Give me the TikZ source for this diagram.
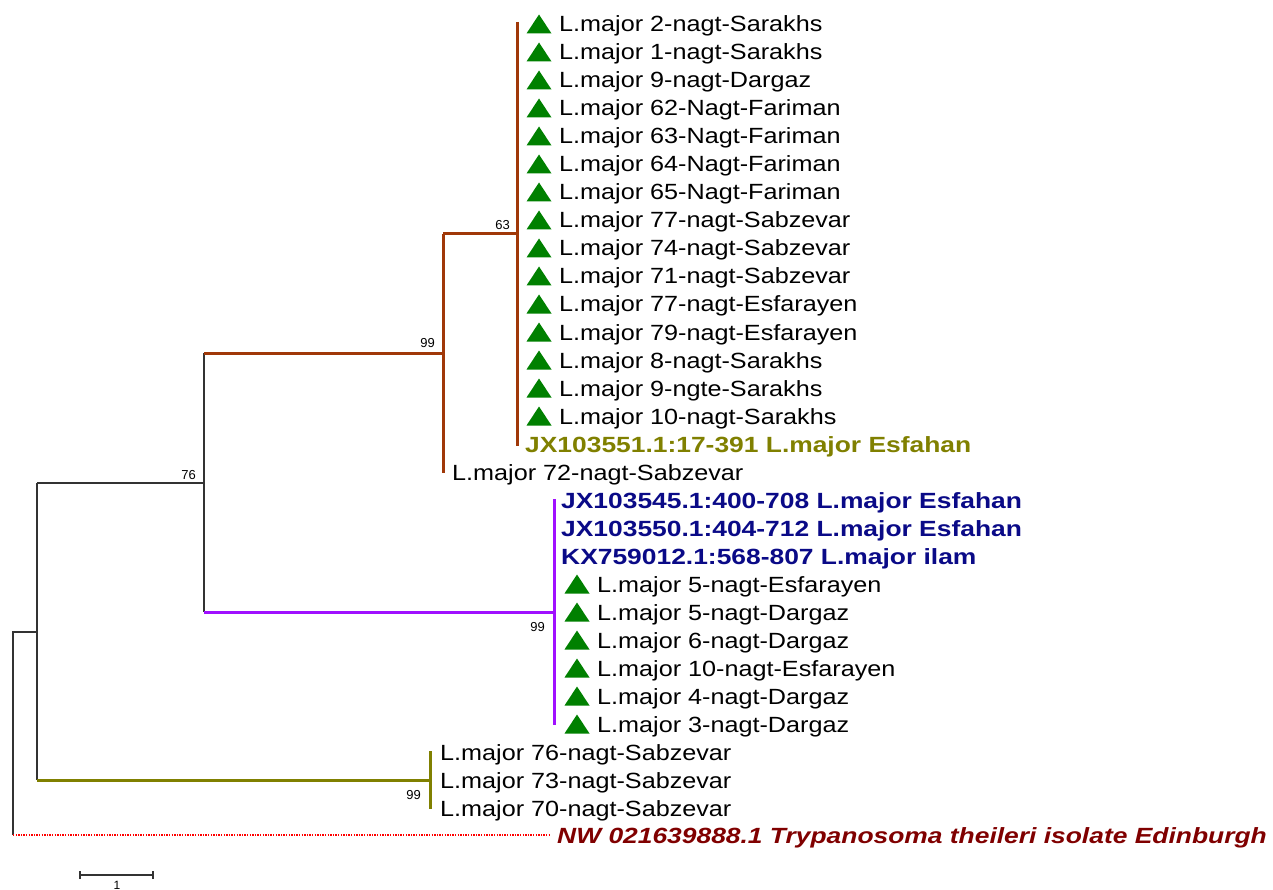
\documentclass[tikz,border=0pt]{standalone}
\usepackage{fontspec}
\setmainfont{Liberation Sans}
\newfontfamily\leaffont[FakeStretch=1.145]{Liberation Sans}
\newfontfamily\boldleaffont[FakeStretch=1.2]{Liberation Sans}
\definecolor{brn}{RGB}{160,56,8}
\definecolor{prp}{RGB}{160,16,255}
\definecolor{olv}{RGB}{128,128,0}
\definecolor{nvy}{RGB}{10,10,135}
\definecolor{drd}{RGB}{128,0,0}
\definecolor{grn}{RGB}{0,128,0}
\tikzset{
  leaf/.style={anchor=west, inner sep=0pt, font=\leaffont\fontsize{22}{22}\selectfont, text height=16pt, text depth=0pt},
  bleaf/.style={leaf, font=\boldleaffont\bfseries\fontsize{22}{22}\selectfont},
  boot/.style={anchor=base east, inner sep=0pt, font=\fontsize{13}{13}\selectfont},
  blk/.style={draw=black!80, line width=1.3pt},
  clbr/.style={line width=3pt},
  mk/.pic={\fill[grn] (-12.5,9.5) -- (12.5,9.5) -- (0,-9.5) -- cycle;}
}
\begin{document}
\begin{tikzpicture}[x=1pt,y=-1pt]
\useasboundingbox (0,0) rectangle (1273,890);
% internal nodes
\coordinate (r) at (13,835);
\coordinate (n0) at (13,632);
\coordinate (n1) at (37,632);
\coordinate (n76) at (204,483);
\coordinate (n99a) at (443,353);
\coordinate (n63) at (517,234);
\coordinate (n99b) at (554,612);
\coordinate (n99c) at (430,780);
\coordinate (t1) at (517,22);
\coordinate (t15) at (517,446);
\coordinate (t72) at (443,473);
\coordinate (p1) at (554,499);
\coordinate (p2) at (554,725);
\coordinate (o1) at (430,751);
\coordinate (o2) at (430,809);
\coordinate (oe) at (550,835);
% branches
\draw[blk] (r) -- (n0) -- (n1);
\draw[blk] (n1 |- n76) -- (n1 |- n99c);
\draw[blk] (n1 |- n76) -- (n76);
\draw[blk] (n76 |- n99a) -- (n76 |- n99b);
\draw[brn,clbr] (n76 |- n99a) -- (n99a);
\draw[brn,clbr] (n99a |- n63) -- (t72);
\draw[brn,clbr] (n99a |- n63) -- (n63);
\draw[brn,clbr] (t1) -- (t15);
\draw[prp,clbr] (n76 |- n99b) -- (n99b);
\draw[prp,clbr] (p1) -- (p2);
\draw[olv,clbr] (n1 |- n99c) -- (n99c);
\draw[olv,clbr] (o1) -- (o2);
\draw[red, line width=1.3pt, dash pattern=on 1.3pt off 1.3pt] (r) -- (oe);
% bootstrap values
\node[boot] (b63) at (510,230) {63};
\node[boot] (b99a) at (435,347) {99};
\node[boot] (b76) at (196,479) {76};
\node[boot] (b99b) at (545,631) {99};
\node[boot] (b99c) at (421,799) {99};
% brown clade leaves
\pic at (539,24) {mk};  \node[leaf] (L1) at (559,24) {L.major 2-nagt-Sarakhs};
\pic at (539,52) {mk};  \node[leaf] (L2) at (559,52) {L.major 1-nagt-Sarakhs};
\pic at (539,80) {mk};  \node[leaf] (L3) at (559,80) {L.major 9-nagt-Dargaz};
\pic at (539,108) {mk}; \node[leaf] (L4) at (559,108) {L.major 62-Nagt-Fariman};
\pic at (539,136) {mk}; \node[leaf] (L5) at (559,136) {L.major 63-Nagt-Fariman};
\pic at (539,164) {mk}; \node[leaf] (L6) at (559,164) {L.major 64-Nagt-Fariman};
\pic at (539,192) {mk}; \node[leaf] (L7) at (559,192) {L.major 65-Nagt-Fariman};
\pic at (539,220) {mk}; \node[leaf] (L8) at (559,220) {L.major 77-nagt-Sabzevar};
\pic at (539,248) {mk}; \node[leaf] (L9) at (559,248) {L.major 74-nagt-Sabzevar};
\pic at (539,276) {mk}; \node[leaf] (L10) at (559,276) {L.major 71-nagt-Sabzevar};
\pic at (539,304) {mk}; \node[leaf] (L11) at (559,304) {L.major 77-nagt-Esfarayen};
\pic at (539,332) {mk}; \node[leaf] (L12) at (559,332) {L.major 79-nagt-Esfarayen};
\pic at (539,360) {mk}; \node[leaf] (L13) at (559,360) {L.major 8-nagt-Sarakhs};
\pic at (539,388) {mk}; \node[leaf] (L14) at (559,388) {L.major 9-ngte-Sarakhs};
\pic at (539,416) {mk}; \node[leaf] (L15) at (559,416) {L.major 10-nagt-Sarakhs};
\node[bleaf, text=olv] (L16) at (525,444) {JX103551.1:17-391 L.major Esfahan};
\node[leaf] (L17) at (452,472) {L.major 72-nagt-Sabzevar};
% purple clade leaves
\node[bleaf, text=nvy] (P1) at (561,500) {JX103545.1:400-708 L.major Esfahan};
\node[bleaf, text=nvy] (P2) at (561,528) {JX103550.1:404-712 L.major Esfahan};
\node[bleaf, text=nvy] (P3) at (561,556) {KX759012.1:568-807 L.major ilam};
\pic at (577,584) {mk}; \node[leaf] (P4) at (597,584) {L.major 5-nagt-Esfarayen};
\pic at (577,612) {mk}; \node[leaf] (P5) at (597,612) {L.major 5-nagt-Dargaz};
\pic at (577,640) {mk}; \node[leaf] (P6) at (597,640) {L.major 6-nagt-Dargaz};
\pic at (577,668) {mk}; \node[leaf] (P7) at (597,668) {L.major 10-nagt-Esfarayen};
\pic at (577,696) {mk}; \node[leaf] (P8) at (597,696) {L.major 4-nagt-Dargaz};
\pic at (577,724) {mk}; \node[leaf] (P9) at (597,724) {L.major 3-nagt-Dargaz};
% olive clade leaves
\node[leaf] (O1) at (440,752) {L.major 76-nagt-Sabzevar};
\node[leaf] (O2) at (440,780) {L.major 73-nagt-Sabzevar};
\node[leaf] (O3) at (440,808) {L.major 70-nagt-Sabzevar};
% outgroup
\node[bleaf, text=drd, font=\boldleaffont\bfseries\itshape\fontsize{22}{22}\selectfont] (NW) at (557,835) {NW 021639888.1 Trypanosoma theileri isolate Edinburgh};
% scale bar
\coordinate (s1) at (80,875);
\coordinate (s2) at (153,875);
\draw[black!80, line width=1.2pt] (s1) -- (s2);
\draw[black!80, line width=1.2pt] ([yshift=-4pt]s1) -- ([yshift=4pt]s1);
\draw[black!80, line width=1.2pt] ([yshift=-4pt]s2) -- ([yshift=4pt]s2);
\node[anchor=south, inner sep=0pt, font=\fontsize{12}{12}\selectfont] (sl) at (117,889.5) {1};
\end{tikzpicture}
\end{document}
